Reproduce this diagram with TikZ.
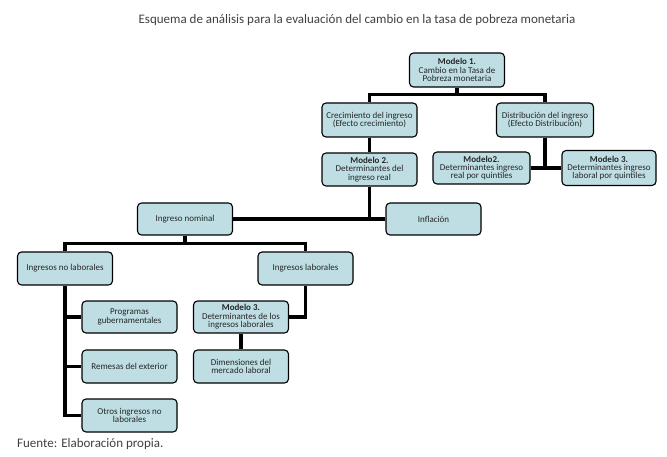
\documentclass[tikz,border=0pt]{standalone}
\usepackage{fontspec}
\setmainfont{Carlito}
\usetikzlibrary{positioning,calc,backgrounds}

\definecolor{boxfill}{RGB}{190,222,228}
\definecolor{textgray}{RGB}{64,64,64}

\tikzset{
    box/.style={draw=black, line width=1.1pt, rounded corners=4pt, fill=boxfill,
        minimum width=95pt, minimum height=33pt, inner sep=1pt, align=center,
        font=\fontsize{9}{8.4}\selectfont, text=black!85},
    link/.style={line width=3.5pt}
}

\begin{document}
\begin{tikzpicture}[x=1pt,y=-1pt]
    \useasboundingbox (0,0) rectangle (667,457);
    \node (title) [text=textgray, font=\fontsize{13}{15}\selectfont] at (357,20)
        {Esquema de análisis para la evaluación del cambio en la tasa de pobreza monetaria};
    \node (src) [anchor=west, inner sep=0pt, text=textgray, font=\fontsize{13}{15}\selectfont] at (17,444)
        {Fuente: Elaboración propia.};

    \node (M1) [box, minimum height=34pt] at (457,70) {\textbf{Modelo 1.}\\Cambio en la Tasa de\\Pobreza monetaria};
    \node (Crec) [box, minimum height=34pt] at (369.5,120) {Crecimiento del ingreso\\(Efecto crecimiento)};
    \node (Dist) [box, minimum width=97pt, minimum height=34pt] at (545,120) {Distribución del ingreso\\(Efecto Distribución)};
    \node (M2) [box] at (369.5,169.5) {\textbf{Modelo 2.}\\Determinantes del\\ingreso real};
    \node (M2q) [box, minimum width=97pt, minimum height=32pt] at (481.5,168) {\textbf{Modelo2.}\\Determinantes ingreso\\real por quintiles};
    \node (M3q) [box, minimum width=94pt, minimum height=35pt] at (609,168) {\textbf{Modelo 3.}\\Determinantes ingreso\\laboral por quintiles};
    \node (Nom) [box, minimum height=32pt] at (185,219) {Ingreso nominal};
    \node (Infl) [box, minimum height=32pt] at (433.5,219) {Inflación};
    \node (NoLab) [box] at (65,268.5) {Ingresos no laborales};
    \node (Lab) [box] at (305.5,268.5) {Ingresos laborales};
    \node (Prog) [box, minimum height=32pt] at (129.5,317) {Programas\\gubernamentales};
    \node (Rem) [box] at (129.5,366.5) {Remesas del exterior};
    \node (Otros) [box] at (129.5,415.5) {Otros ingresos no\\laborales};
    \node (M3) [box, minimum height=32pt] at (241,317) {\textbf{Modelo 3.}\\Determinantes de los\\ingresos laborales};
    \node (Dim) [box] at (241,366.5) {Dimensiones del\\mercado laboral};

    \coordinate (j1) at ($(M1.south)+(0,7)$);
    \coordinate (j2) at ($(Nom.south)+(0,8)$);

    \begin{scope}[on background layer]
    \draw [link]
        (M1.south) -- (j1)
        (j1) -| (Crec.north)
        (j1) -| (Dist.north)
        (Crec.south) -- (M2.north)
        (Dist.south) -- (Dist.south |- M2q.east)
        (M2q.east) -- (M3q.west)
        (M2.south) -- (M2.south |- Nom.east)
        (Nom.east) -- (Infl.west)
        (Nom.south) -- (j2)
        (j2) -| (NoLab.north)
        (j2) -| (Lab.north)
        (NoLab.south) |- (Otros.west)
        (NoLab.south |- Prog.west) -- (Prog.west)
        (NoLab.south |- Rem.west) -- (Rem.west)
        (Lab.south) |- (M3.east)
        (M3.south) -- (Dim.north);
    \end{scope}
\end{tikzpicture}
\end{document}
